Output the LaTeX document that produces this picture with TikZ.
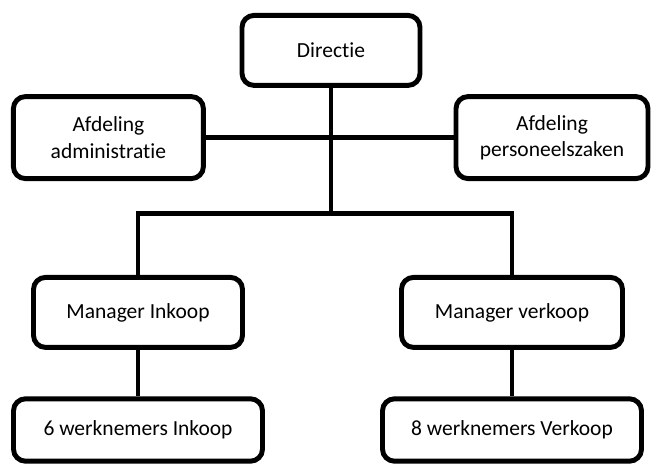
\documentclass[tikz,border=0pt]{standalone}
\usepackage{fontspec}
\setmainfont{Carlito}[Ligatures={NoCommon,NoDiscretionary}]
\usetikzlibrary{positioning,calc}

\begin{document}
\begin{tikzpicture}[
    box/.style={draw, line width=3.5pt, rounded corners=0.3cm, fill=white,
                align=center, font=\fontsize{15.3}{18.6}\selectfont, inner sep=2pt},
    link/.style={line width=3.5pt}
]
                \useasboundingbox (0,0) rectangle (16.275,11.6);

                % Top
                \node[box, minimum width=4.45cm, minimum height=1.75cm] (directie) at (8.275, 10.34) {Directie};

                % Staff departments
                \node[box, minimum width=4.75cm, minimum height=2.05cm] (admin) at (2.71, 8.16) {Afdeling\\administratie};
                \node[box, minimum width=4.8cm, minimum height=2.05cm] (personeel) at (13.8, 8.16) {Afdeling\\personeelszaken};

                % Managers
                \node[box, minimum width=5.225cm, minimum height=1.75cm] (mgrInkoop) at (3.45, 3.79) {Manager Inkoop};
                \node[box, minimum width=5.525cm, minimum height=1.75cm] (mgrVerkoop) at (12.8, 3.79) {Manager verkoop};

                % Employees
                \node[box, minimum width=6.225cm, minimum height=1.56cm] (werkInkoop) at (3.45, 0.85) {6 werknemers Inkoop};
                \node[box, minimum width=6.475cm, minimum height=1.56cm] (werkVerkoop) at (12.8, 0.85) {8 werknemers Verkoop};

                % Connectors
                \coordinate (bus) at (directie.south |- 0,6.26);
                \draw[link] (admin.east) -- (personeel.west);
                \draw[link] (directie.south) -- (bus);
                \draw[link] (mgrInkoop.north) |- (bus) -| (mgrVerkoop.north);
                \draw[link] (mgrInkoop.south) -- (werkInkoop.north);
                \draw[link] (mgrVerkoop.south) -- (werkVerkoop.north);
\end{tikzpicture}
\end{document}
